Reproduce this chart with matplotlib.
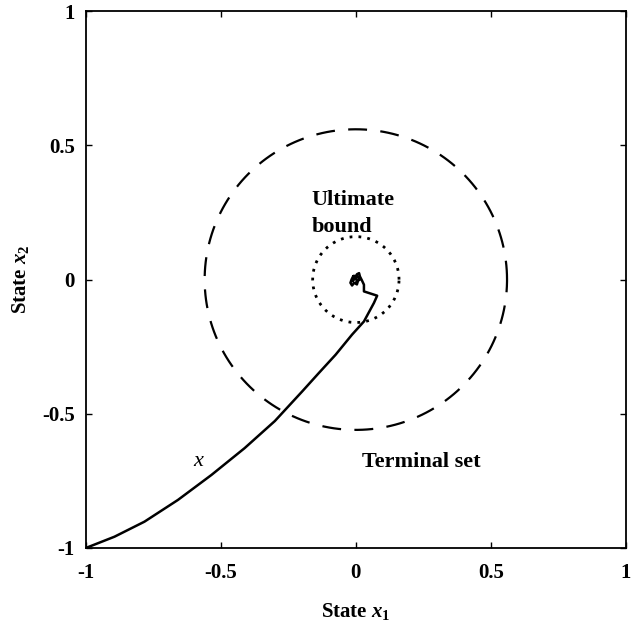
import numpy as np
import matplotlib
matplotlib.use("Agg")
import matplotlib.pyplot as plt

plt.rcParams['font.family'] = ['Liberation Serif', 'DejaVu Serif']
plt.rcParams['font.weight'] = 'bold'
plt.rcParams['mathtext.fontset'] = 'custom'
plt.rcParams['mathtext.rm'] = 'Liberation Serif:bold'
plt.rcParams['mathtext.it'] = 'Liberation Serif:italic:bold'
plt.rcParams['mathtext.bf'] = 'Liberation Serif:bold'

# Trajectory of the state x
traj_x1 = [-1.0, -0.894, -0.783, -0.659, -0.535, -0.412, -0.300, -0.199,
           -0.137, -0.075, -0.014, 0.030, 0.045, 0.067, 0.079, 0.030, 0.030,
           0.022, 0.015, 0.012, 0.004, 0.000, -0.010, -0.016, -0.020, -0.014,
           -0.006, 0.004, 0.008, -0.004, -0.012, -0.008, 0.006, 0.014, 0.002]
traj_x2 = [-1.0, -0.958, -0.902, -0.821, -0.728, -0.628, -0.527, -0.417,
           -0.348, -0.280, -0.205, -0.156, -0.128, -0.087, -0.060, -0.044, -0.019,
           -0.002, 0.012, 0.024, 0.020, 0.008, 0.012, 0.000, -0.012, -0.022,
           -0.012, -0.018, -0.004, 0.004, -0.006, 0.014, 0.012, 0.000, -0.008]

terminal_radius = 0.56
ultimate_radius = 0.16

ticks = [-1, -0.5, 0, 0.5, 1]
tick_labels = ['-1', '-0.5', '0', '0.5', '1']

fig = plt.figure(figsize=(6.36, 6.22), dpi=100)
ax = fig.add_axes([0.135, 0.119, 0.849, 0.863])

theta = np.linspace(0, 2 * np.pi, 400)
ax.plot(terminal_radius * np.cos(theta), terminal_radius * np.sin(theta),
        color='black', lw=1.6, linestyle=(0, (8.5, 6)))
ax.plot(ultimate_radius * np.cos(theta), ultimate_radius * np.sin(theta),
        color='black', lw=2.0, linestyle=(0, (1, 2.2)))
ax.plot(traj_x1, traj_x2, color='black', lw=1.8, solid_joinstyle='round',
        solid_capstyle='round')

ax.text(-0.583, -0.679, 'x', fontsize=16, style='italic', fontweight='normal',
        ha='center', va='center')
ax.text(0.022, -0.679, 'Terminal set', fontsize=16, fontweight='bold',
        ha='left', va='center')
ax.text(-0.163, 0.246, 'Ultimate\nbound', fontsize=16, fontweight='bold',
        ha='left', va='center', linespacing=1.5)

ax.set_xlim(-1, 1)
ax.set_ylim(-1, 1)
ax.set_xticks(ticks)
ax.set_xticklabels(tick_labels)
ax.set_yticks(ticks)
ax.set_yticklabels(tick_labels)
ax.tick_params(direction='in', length=4, width=1, labelsize=15,
               top=True, right=True)
ax.tick_params(axis='x', pad=11)
ax.tick_params(axis='y', pad=8)
for lab in ax.get_xticklabels() + ax.get_yticklabels():
    lab.set_fontweight('bold')
for s in ax.spines.values():
    s.set_linewidth(1.3)

ax.set_xlabel(r'State $x_1$', fontsize=15, fontweight='bold', labelpad=13)
ax.set_ylabel(r'State $x_2$', fontsize=15, fontweight='bold', labelpad=8)

fig.savefig('out.png', dpi=100)
